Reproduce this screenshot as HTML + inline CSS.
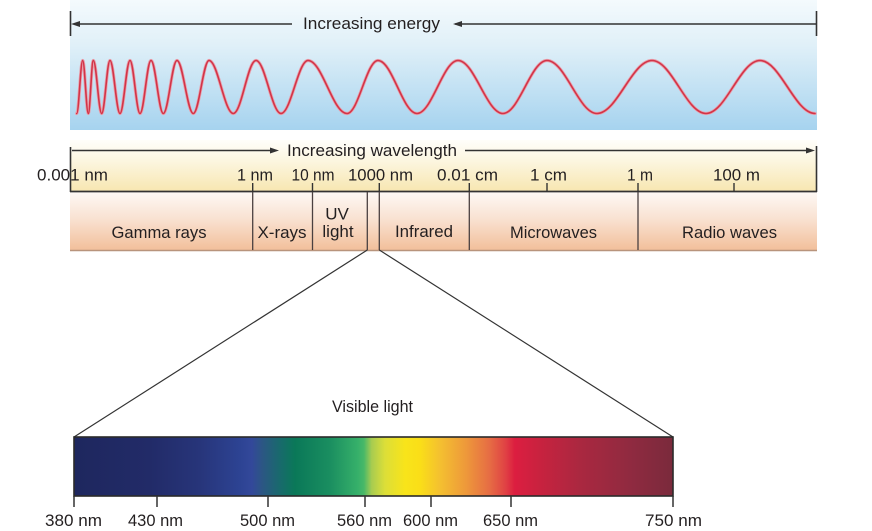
<!DOCTYPE html>
<html>
<head>
<meta charset="utf-8">
<style>
  html,body{margin:0;padding:0;background:#ffffff;}
  svg{display:block;}
  text{font-family:"Liberation Sans", Arial, sans-serif;fill:#231f20;font-size:17px;}
</style>
</head>
<body>
<svg width="872" height="531" viewBox="0 0 872 531" xmlns="http://www.w3.org/2000/svg">
  <defs>
    <linearGradient id="blue" x1="0" y1="0" x2="0" y2="1">
      <stop offset="0" stop-color="#f4fafd"/>
      <stop offset="0.35" stop-color="#e0f0f8"/>
      <stop offset="1" stop-color="#a6d3ef"/>
    </linearGradient>
    <linearGradient id="yellow" x1="0" y1="0" x2="0" y2="1">
      <stop offset="0" stop-color="#fffefa"/>
      <stop offset="0.4" stop-color="#fcf6e0"/>
      <stop offset="1" stop-color="#f7e6b0"/>
    </linearGradient>
    <linearGradient id="peach" x1="0" y1="0" x2="0" y2="1">
      <stop offset="0" stop-color="#fdf8f4"/>
      <stop offset="0.45" stop-color="#f9e2d2"/>
      <stop offset="1" stop-color="#f2bf9a"/>
    </linearGradient>
    <linearGradient id="spec" x1="74" y1="0" x2="673" y2="0" gradientUnits="userSpaceOnUse">
      <stop offset="0" stop-color="#1e275e"/>
      <stop offset="0.127" stop-color="#222b68"/>
      <stop offset="0.21" stop-color="#27357a"/>
      <stop offset="0.277" stop-color="#2d4393"/>
      <stop offset="0.297" stop-color="#33489a"/>
      <stop offset="0.314" stop-color="#2c5684"/>
      <stop offset="0.344" stop-color="#186a6c"/>
      <stop offset="0.369" stop-color="#0a7858"/>
      <stop offset="0.427" stop-color="#1a8e60"/>
      <stop offset="0.474" stop-color="#36b06a"/>
      <stop offset="0.484" stop-color="#48b868"/>
      <stop offset="0.497" stop-color="#a8cc50"/>
      <stop offset="0.519" stop-color="#dcde38"/>
      <stop offset="0.553" stop-color="#f8e41a"/>
      <stop offset="0.578" stop-color="#fade18"/>
      <stop offset="0.611" stop-color="#f4c030"/>
      <stop offset="0.653" stop-color="#ee9a3a"/>
      <stop offset="0.694" stop-color="#e66c44"/>
      <stop offset="0.72" stop-color="#e04244"/>
      <stop offset="0.736" stop-color="#dc1e40"/>
      <stop offset="0.778" stop-color="#c8223f"/>
      <stop offset="0.845" stop-color="#aa2840"/>
      <stop offset="0.928" stop-color="#902a40"/>
      <stop offset="1" stop-color="#7a2a3c"/>
    </linearGradient>
  </defs>

  <!-- Energy band -->
  <rect x="70" y="0" width="747" height="130" fill="url(#blue)"/>
  <line x1="70.5" y1="11" x2="70.5" y2="36" stroke="#333" stroke-width="1.6"/>
  <line x1="816.5" y1="11" x2="816.5" y2="36" stroke="#333" stroke-width="1.6"/>
  <line x1="74" y1="24" x2="292" y2="24" stroke="#333" stroke-width="1.4"/>
  <polygon points="71,24 80,21 80,27" fill="#333"/>
  <line x1="455" y1="24" x2="816" y2="24" stroke="#333" stroke-width="1.4"/>
  <polygon points="453,24 462,21 462,27" fill="#333"/>
  <text x="303" y="29" textLength="137" lengthAdjust="spacingAndGlyphs">Increasing energy</text>

  <!-- wave -->
  <path d="M76.7,113.5
  C78.9,113.5 80.5,60.5 82.7,60.5
  C84.7,60.5 86.3,113.5 88.3,113.5
  C90.1,113.5 91.5,60.5 93.3,60.5
  C96.4,60.5 98.6,113.5 101.7,113.5
  C104.7,113.5 107,60.5 110,60.5
  C113.6,60.5 116.4,113.5 120,113.5
  C123.6,113.5 126.4,60.5 130,60.5
  C133.6,60.5 136.4,113.5 140,113.5
  C144,113.5 147,60.5 151,60.5
  C155.5,60.5 158.8,113.5 163.3,113.5
  C168.3,113.5 172,60.5 177,60.5
  C182.9,60.5 187.4,113.5 193.3,113.5
  C199,113.5 203.3,60.5 209,60.5
  C217.8,60.5 224.5,113.5 233.3,113.5
  C241.6,113.5 247.7,60.5 256,60.5
  C265.1,60.5 271.9,113.5 281,113.5
  C290.8,113.5 298.2,60.5 308,60.5
  C322.2,60.5 332.8,113.5 347,113.5
  C358.3,113.5 366.7,60.5 378,60.5
  C392.2,60.5 402.8,113.5 417,113.5
  C431.9,113.5 443.1,60.5 458,60.5
  C474.4,60.5 486.6,113.5 503,113.5
  C519,113.5 531,60.5 547,60.5
  C565.2,60.5 578.8,113.5 597,113.5
  C617,113.5 632,60.5 652,60.5
  C671.7,60.5 686.3,113.5 706,113.5
  C725.7,113.5 740.3,60.5 760,60.5
  C780,60.5 795,113.5 815,113.5" fill="none" stroke="#e8a0ac" stroke-width="3.2" stroke-linecap="round"/>
  <path d="M76.7,113.5
  C78.9,113.5 80.5,60.5 82.7,60.5
  C84.7,60.5 86.3,113.5 88.3,113.5
  C90.1,113.5 91.5,60.5 93.3,60.5
  C96.4,60.5 98.6,113.5 101.7,113.5
  C104.7,113.5 107,60.5 110,60.5
  C113.6,60.5 116.4,113.5 120,113.5
  C123.6,113.5 126.4,60.5 130,60.5
  C133.6,60.5 136.4,113.5 140,113.5
  C144,113.5 147,60.5 151,60.5
  C155.5,60.5 158.8,113.5 163.3,113.5
  C168.3,113.5 172,60.5 177,60.5
  C182.9,60.5 187.4,113.5 193.3,113.5
  C199,113.5 203.3,60.5 209,60.5
  C217.8,60.5 224.5,113.5 233.3,113.5
  C241.6,113.5 247.7,60.5 256,60.5
  C265.1,60.5 271.9,113.5 281,113.5
  C290.8,113.5 298.2,60.5 308,60.5
  C322.2,60.5 332.8,113.5 347,113.5
  C358.3,113.5 366.7,60.5 378,60.5
  C392.2,60.5 402.8,113.5 417,113.5
  C431.9,113.5 443.1,60.5 458,60.5
  C474.4,60.5 486.6,113.5 503,113.5
  C519,113.5 531,60.5 547,60.5
  C565.2,60.5 578.8,113.5 597,113.5
  C617,113.5 632,60.5 652,60.5
  C671.7,60.5 686.3,113.5 706,113.5
  C725.7,113.5 740.3,60.5 760,60.5
  C780,60.5 795,113.5 815,113.5" fill="none" stroke="#d23448" stroke-width="1.6" stroke-linecap="round"/>

  <!-- Wavelength bar -->
  <rect x="70" y="140" width="747" height="52" fill="url(#yellow)"/>
  <line x1="70.5" y1="147" x2="70.5" y2="192" stroke="#333" stroke-width="1.6"/>
  <line x1="816.5" y1="146" x2="816.5" y2="192" stroke="#333" stroke-width="1.6"/>
  <line x1="70" y1="191.5" x2="817" y2="191.5" stroke="#333" stroke-width="1.8"/>
  <line x1="72" y1="150.5" x2="272" y2="150.5" stroke="#333" stroke-width="1.4"/>
  <polygon points="279,150.5 270,147.5 270,153.5" fill="#333"/>
  <line x1="465" y1="150.5" x2="808" y2="150.5" stroke="#333" stroke-width="1.4"/>
  <polygon points="815,150.5 806,147.5 806,153.5" fill="#333"/>
  <text x="287" y="156" textLength="170" lengthAdjust="spacingAndGlyphs">Increasing wavelength</text>

  <text x="37" y="180.5" textLength="71" lengthAdjust="spacingAndGlyphs">0.001 nm</text>
  <text x="237" y="180.5" textLength="36" lengthAdjust="spacingAndGlyphs">1 nm</text>
  <text x="291.5" y="180.5" textLength="43" lengthAdjust="spacingAndGlyphs">10 nm</text>
  <text x="348" y="180.5" textLength="65" lengthAdjust="spacingAndGlyphs">1000 nm</text>
  <text x="437" y="180.5" textLength="61" lengthAdjust="spacingAndGlyphs">0.01 cm</text>
  <text x="530" y="180.5" textLength="37" lengthAdjust="spacingAndGlyphs">1 cm</text>
  <text x="627" y="180.5" textLength="26" lengthAdjust="spacingAndGlyphs">1 m</text>
  <text x="713" y="180.5" textLength="47" lengthAdjust="spacingAndGlyphs">100 m</text>

  <!-- short ticks -->
  <line x1="547" y1="183" x2="547" y2="192" stroke="#333" stroke-width="1.4"/>
  <line x1="734" y1="183" x2="734" y2="192" stroke="#333" stroke-width="1.4"/>
  <line x1="252.7" y1="183" x2="252.7" y2="192" stroke="#333" stroke-width="1.4"/>
  <line x1="312.5" y1="183" x2="312.5" y2="192" stroke="#333" stroke-width="1.4"/>
  <line x1="379.3" y1="183" x2="379.3" y2="192" stroke="#333" stroke-width="1.4"/>
  <line x1="469.3" y1="183" x2="469.3" y2="192" stroke="#333" stroke-width="1.4"/>
  <line x1="638" y1="183" x2="638" y2="192" stroke="#333" stroke-width="1.4"/>

  <!-- Regions band -->
  <rect x="70" y="192.5" width="747" height="58" fill="url(#peach)"/>
  <line x1="70" y1="250.5" x2="817" y2="250.5" stroke="#b8947c" stroke-width="1.6"/>
  <g stroke="#4a4040" stroke-width="1.3">
    <line x1="252.7" y1="192" x2="252.7" y2="250"/>
    <line x1="312.5" y1="192" x2="312.5" y2="250"/>
    <line x1="367.3" y1="192" x2="367.3" y2="250"/>
    <line x1="379.3" y1="192" x2="379.3" y2="250"/>
    <line x1="469.3" y1="192" x2="469.3" y2="250"/>
    <line x1="638" y1="192" x2="638" y2="250"/>
  </g>
  <text x="159" y="238" text-anchor="middle" textLength="95" lengthAdjust="spacingAndGlyphs">Gamma rays</text>
  <text x="282" y="238" text-anchor="middle">X-rays</text>
  <text x="337" y="219.5" text-anchor="middle">UV</text>
  <text x="338" y="237" text-anchor="middle">light</text>
  <text x="424" y="237" text-anchor="middle" textLength="58" lengthAdjust="spacingAndGlyphs">Infrared</text>
  <text x="553.5" y="238" text-anchor="middle" textLength="87" lengthAdjust="spacingAndGlyphs">Microwaves</text>
  <text x="729.5" y="238" text-anchor="middle" textLength="95" lengthAdjust="spacingAndGlyphs">Radio waves</text>

  <!-- Zoom lines -->
  <line x1="367.3" y1="250" x2="74" y2="437" stroke="#333" stroke-width="1.2"/>
  <line x1="379.3" y1="250" x2="673" y2="437" stroke="#333" stroke-width="1.2"/>

  <text x="332" y="412" textLength="81" lengthAdjust="spacingAndGlyphs">Visible light</text>

  <!-- Spectrum -->
  <rect x="74" y="437" width="599" height="59" fill="url(#spec)" stroke="#2a2a2a" stroke-width="1.6"/>
  <g stroke="#333" stroke-width="1.5">
    <line x1="74" y1="496" x2="74" y2="507"/>
    <line x1="157" y1="496" x2="157" y2="507"/>
    <line x1="268" y1="496" x2="268" y2="507"/>
    <line x1="365" y1="496" x2="365" y2="507"/>
    <line x1="431" y1="496" x2="431" y2="507"/>
    <line x1="511" y1="496" x2="511" y2="507"/>
    <line x1="673" y1="496" x2="673" y2="507"/>
  </g>
  <text x="45" y="526" textLength="57" lengthAdjust="spacingAndGlyphs">380 nm</text>
  <text x="128" y="526" textLength="55" lengthAdjust="spacingAndGlyphs">430 nm</text>
  <text x="240" y="526" textLength="55" lengthAdjust="spacingAndGlyphs">500 nm</text>
  <text x="337" y="526" textLength="55" lengthAdjust="spacingAndGlyphs">560 nm</text>
  <text x="403" y="526" textLength="55" lengthAdjust="spacingAndGlyphs">600 nm</text>
  <text x="483" y="526" textLength="55" lengthAdjust="spacingAndGlyphs">650 nm</text>
  <text x="645" y="526" textLength="57" lengthAdjust="spacingAndGlyphs">750 nm</text>
</svg>
</body>
</html>
